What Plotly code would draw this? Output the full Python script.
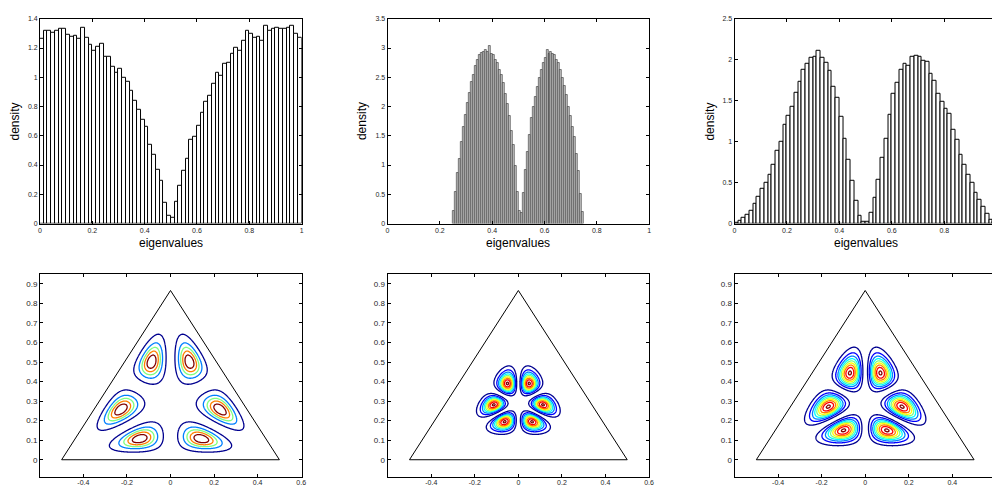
import numpy as np
import plotly.graph_objects as go

W, H = 997, 490

# ---------------- histogram data (70 bins each) ----------------
HIST1_RANGE = [0.0, 1.0]
HIST1 = [1.265, 1.317, 1.317, 1.303, 1.317, 1.33, 1.33, 1.29, 1.276, 1.283,
         1.265, 1.34, 1.27, 1.22, 1.18, 1.21, 1.23, 1.14, 1.14, 1.07,
         1.03, 1.06, 1.00, 0.97, 0.91, 0.84, 0.78, 0.71, 0.66, 0.54,
         0.47, 0.37, 0.29, 0.14, 0.05,
         0.04, 0.15, 0.26, 0.36, 0.44, 0.57, 0.59, 0.67, 0.755, 0.83,
         0.876, 0.957, 1.03, 1.01, 1.09, 1.10, 1.16, 1.20, 1.18, 1.25,
         1.32, 1.30, 1.27, 1.28, 1.25, 1.35, 1.32, 1.33, 1.34, 1.33,
         1.33, 1.34, 1.35, 1.30, 1.27]

HIST2_RANGE = [0.25, 0.75]
HIST2 = [0.21, 0.55, 0.87, 1.11, 1.39, 1.65, 1.86, 2.06, 2.24, 2.42,
         2.55, 2.70, 2.80, 2.88, 2.92, 2.94, 2.97, 2.94, 3.04, 2.91,
         2.88, 2.80, 2.74, 2.63, 2.54, 2.40, 2.22, 2.04, 1.84, 1.59,
         1.34, 0.98, 0.55, 0.21, 0.18,
         0.52, 0.92, 1.22, 1.52, 1.80, 2.00, 2.16, 2.34, 2.50, 2.63,
         2.75, 2.84, 2.97, 2.90, 2.93, 2.91, 2.88, 2.80, 2.75, 2.62,
         2.50, 2.35, 2.20, 2.00, 1.85, 1.65, 1.48, 1.20, 0.90, 0.50,
         0.20]

HIST3_RANGE = [0.0, 1.0]
HIST3 = [0.01, 0.03, 0.07, 0.11, 0.15, 0.24, 0.33, 0.42, 0.50, 0.59,
         0.72, 0.89, 1.00, 1.21, 1.32, 1.42, 1.60, 1.73, 1.88, 1.95,
         2.02, 2.04, 2.11, 2.02, 1.96, 1.87, 1.67, 1.54, 1.30, 1.04,
         0.78, 0.52, 0.28, 0.09, 0.02,
         0.02, 0.13, 0.32, 0.53, 0.80, 1.04, 1.33, 1.58, 1.72, 1.88,
         1.95, 1.93, 2.03, 2.05, 2.04, 1.99, 1.97, 1.83, 1.74, 1.59,
         1.49, 1.40, 1.34, 1.14, 1.02, 0.84, 0.72, 0.60, 0.50, 0.37,
         0.29, 0.20, 0.12, 0.04, 0.02]

# tick labels
X_TICKS_TOP = [0, 0.2, 0.4, 0.6, 0.8, 1]
Y_TICKS_1 = [0, 0.2, 0.4, 0.6, 0.8, 1, 1.2, 1.4]
Y_TICKS_2 = [0, 0.5, 1, 1.5, 2, 2.5, 3, 3.5]
Y_TICKS_3 = [0, 0.5, 1, 1.5, 2, 2.5]
X_TICKS_BOT = [-0.4, -0.2, 0, 0.2, 0.4, 0.6]
Y_TICKS_BOT = [0, 0.1, 0.2, 0.3, 0.4, 0.5, 0.6, 0.7, 0.8, 0.9]

# triangle (simplex) outline
TRI_X = [-0.5, 0.5, 0.0, -0.5]
TRI_Y = [0.0, 0.0, np.sqrt(3) / 2, 0.0]

# contour model parameters: |Vandermonde|^beta * (l1 l2 l3)^a, levels as fraction of max
CONTOUR_BETA = [3.0, 2.0, 2.0]
CONTOUR_EXP = [6.5, 24.0, 9.5]
CONTOUR_LEVELS = [
    [0.05, 0.245, 0.44, 0.635, 0.83],
    list(np.linspace(0.06, 0.98, 9)),
    list(np.linspace(0.06, 0.98, 9)),
]

JET = [[0.0, "#00008F"], [0.125, "#0000FF"], [0.375, "#00FFFF"],
       [0.625, "#FFFF00"], [0.875, "#FF0000"], [1.0, "#800000"]]


def density(X, Y, beta, a):
    h = np.sqrt(3) / 2
    l3 = Y / h
    l1 = (1 - l3 - 2 * X) / 2
    l2 = (1 - l3 + 2 * X) / 2
    inside = (l1 > 0) & (l2 > 0) & (l3 > 0)
    v = np.abs((l1 - l2) * (l1 - l3) * (l2 - l3)) ** beta
    w = (np.clip(l1, 0, None) * np.clip(l2, 0, None) * np.clip(l3, 0, None)) ** a
    f = v * w
    f[~inside] = 0
    return f / f.max()


fig = go.Figure()


def px_x(p):
    return p / W


def px_y(p):
    return 1 - p / H


col_px = [(38.3, 301.7), (388.3, 651.7), (737.7, 1001.7)]
top_px = (15.0, 222.7)
bot_px = (274.0, 480.0)

font = "Liberation Sans, Arial, Helvetica, sans-serif"
tickfont = dict(family=font, size=7, color="#262626")

hists = [(HIST1, HIST1_RANGE, Y_TICKS_1, "white", 1.0, "black"),
         (HIST2, HIST2_RANGE, Y_TICKS_2, "#c4c4c4", 0.5, "#111111"),
         (HIST3, HIST3_RANGE, Y_TICKS_3, "white", 1.0, "black")]

layout_axes = {}
annotations = []
for i, (vals, rng, yt, fillc, lw, lc) in enumerate(hists):
    n = len(vals)
    bw = (rng[1] - rng[0]) / n
    centers = [rng[0] + (k + 0.5) * bw for k in range(n)]
    xa = f"x{i+1}" if i else "x"
    ya = f"y{i+1}" if i else "y"
    fig.add_trace(go.Bar(x=centers, y=vals, width=bw, xaxis=xa, yaxis=ya,
                         marker=dict(color=fillc, line=dict(color=lc, width=lw)),
                         showlegend=False))
    x0, x1 = col_px[i]
    dom_x = [px_x(x0), min(1.0, px_x(x1))]
    xr = [0, 1] if x1 <= W else [0, (W - x0) / (x1 - x0)]
    layout_axes[f"xaxis{i+1}" if i else "xaxis"] = dict(
        domain=dom_x, range=xr, anchor=ya, tickvals=X_TICKS_TOP,
        ticktext=[f"{v:g}" for v in X_TICKS_TOP], ticks="inside", ticklen=3,
        showline=True, linecolor="black", linewidth=1, mirror="ticks",
        showgrid=False, zeroline=False, tickfont=tickfont, tickcolor="black")
    layout_axes[f"yaxis{i+1}" if i else "yaxis"] = dict(
        domain=[px_y(top_px[1]), px_y(top_px[0])], range=[0, yt[-1]], anchor=xa,
        tickvals=yt, ticktext=[f"{v:g}" for v in yt], ticks="inside", ticklen=3,
        showline=True, linecolor="black", linewidth=1,
        mirror="ticks" if x1 <= W else False,
        showgrid=False, zeroline=False, tickfont=tickfont, tickcolor="black")
    annotations.append(dict(text="eigenvalues", x=px_x((x0 + x1) / 2), y=px_y(242.3),
                            xref="paper", yref="paper", showarrow=False,
                            xanchor="center", yanchor="middle",
                            font=dict(family=font, size=12, color="black")))
    annotations.append(dict(text="density", x=px_x([13.3, 363.3, 713.3][i]), y=px_y(119),
                            xref="paper", yref="paper", showarrow=False, textangle=-90,
                            xanchor="center", yanchor="middle",
                            font=dict(family=font, size=12, color="black")))

gx = np.linspace(-0.5, 0.5, 401)
gy = np.linspace(0, np.sqrt(3) / 2, 351)
GX, GY = np.meshgrid(gx, gy)

for j in range(3):
    i = j + 3
    xa = f"x{i+1}"
    ya = f"y{i+1}"
    Z = density(GX, GY, CONTOUR_BETA[j], CONTOUR_EXP[j])
    lv = CONTOUR_LEVELS[j]
    step = (lv[-1] - lv[0]) / (len(lv) - 1)
    fig.add_trace(go.Contour(x=gx, y=gy, z=Z, xaxis=xa, yaxis=ya,
                             contours=dict(coloring="lines", start=lv[0], end=lv[-1] + 1e-9,
                                           size=step),
                             colorscale=JET, zmin=lv[0], zmax=lv[-1], zauto=False,
                             line=dict(width=1.3), showscale=False, hoverinfo="skip"))
    fig.add_trace(go.Scatter(x=TRI_X, y=TRI_Y, mode="lines", xaxis=xa, yaxis=ya,
                             line=dict(color="black", width=1), showlegend=False))
    x0, x1 = col_px[j]
    zero_px = [169.7, 520.0, 869.3][j]
    scale = 219.3
    xr = [(x0 - zero_px) / scale, (min(x1, W) - zero_px) / scale]
    layout_axes[f"xaxis{i+1}"] = dict(
        domain=[px_x(x0), min(1.0, px_x(x1))], range=xr, anchor=ya,
        tickvals=X_TICKS_BOT, ticktext=[f"{v:g}" for v in X_TICKS_BOT],
        ticks="inside", ticklen=3, showline=True, linecolor="black", linewidth=1,
        mirror="ticks", showgrid=False, zeroline=False, ticklabelstandoff=-2,
        tickfont=dict(family=font, size=7, color="#262626"), tickcolor="black")
    layout_axes[f"yaxis{i+1}"] = dict(
        domain=[px_y(bot_px[1]), px_y(bot_px[0])], range=[-0.089, 0.95], anchor=xa,
        tickvals=Y_TICKS_BOT, ticktext=[f"{v:g}" for v in Y_TICKS_BOT],
        ticks="inside", ticklen=3, showline=True, linecolor="black", linewidth=1,
        mirror="ticks" if x1 <= W else False, showgrid=False, zeroline=False,
        tickfont=dict(family=font, size=8, color="#262626"), tickcolor="black")

fig.update_layout(width=W, height=H, margin=dict(l=0, r=0, t=0, b=0),
                  paper_bgcolor="white", plot_bgcolor="white", bargap=0,
                  showlegend=False, annotations=annotations, **layout_axes)

fig.write_html("out.html", config={"displayModeBar": False})

# remove the browser's default body margin so the figure sits at the page origin
with open("out.html", encoding="utf-8") as fh:
    page = fh.read()
page = page.replace("<head>", "<head><style>html,body{margin:0;padding:0;overflow:hidden;}</style>", 1)
with open("out.html", "w", encoding="utf-8") as fh:
    fh.write(page)
